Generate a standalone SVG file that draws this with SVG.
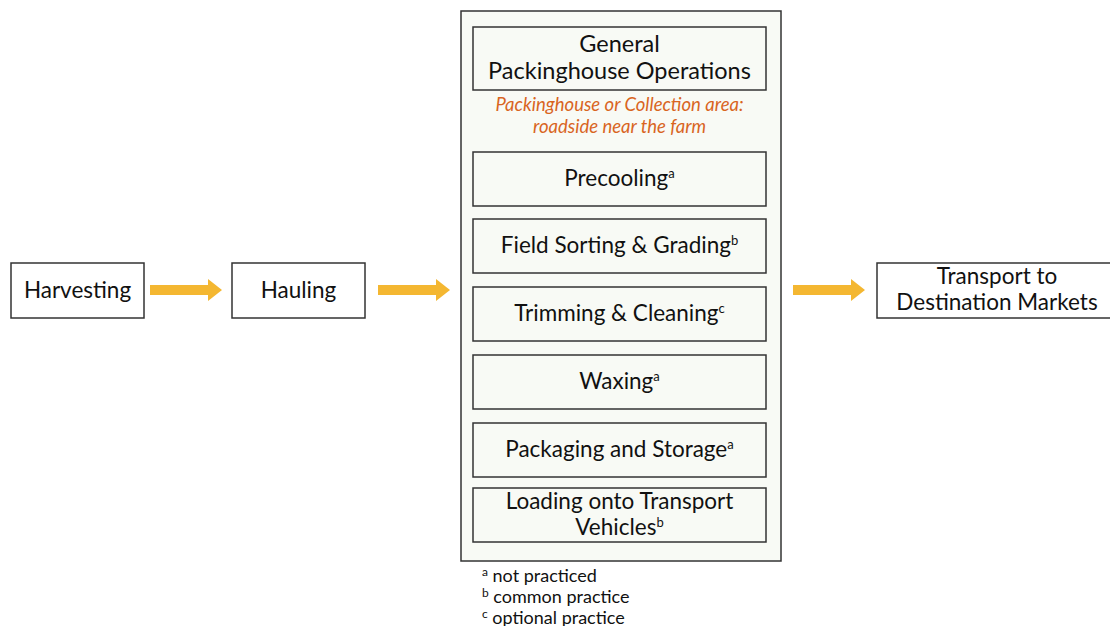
<svg xmlns="http://www.w3.org/2000/svg" width="1110" height="626" viewBox="0 0 1110 626">
<defs>
<style>
.box{fill:#ffffff;stroke:#333333;stroke-width:1.5}
.ibox{fill:#f8faf5;stroke:#333333;stroke-width:1.5}
.t{font-family:Lato,"Noto Sans",sans-serif;font-size:22.5px;fill:#111111;text-anchor:middle}
.big{font-size:23.5px}
.sup{font-size:13px}
.o{font-family:Lato,"Noto Sans",sans-serif;font-size:18.5px;font-style:italic;fill:#d9651f;text-anchor:middle}
.f{font-family:Lato,"Noto Sans",sans-serif;font-size:18px;fill:#111111}
.fs{font-size:12px}
.arr{fill:#f4b731}
</style>
</defs>
<rect width="1110" height="626" fill="#ffffff"/>
<g id="connectors">
<path class="arr" d="M150,285 H208 V279 L222,290 L208,301 V295 H150 Z"/>
<path class="arr" d="M378,285 H436 V279 L450,290 L436,301 V295 H378 Z"/>
<path class="arr" d="M793,285 H851 V279 L865,290 L851,301 V295 H793 Z"/>
</g>
<g id="harvesting">
<rect class="box" x="11" y="263" width="133" height="55"/>
<text class="t" x="77.5" y="298">Harvesting</text>
</g>
<g id="hauling">
<rect class="box" x="232" y="263" width="133" height="55"/>
<text class="t" x="298.5" y="298">Hauling</text>
</g>
<g id="packinghouse">
<rect class="ibox" x="461" y="11" width="320" height="550"/>
</g>
<g id="general">
<rect class="ibox" x="473" y="27" width="293" height="63"/>
<text class="t big" x="619.5" y="52">General</text>
<text class="t big" x="619.5" y="79">Packinghouse Operations</text>
<text class="o" x="619.5" y="111">Packinghouse or Collection area:</text>
<text class="o" x="619.5" y="133">roadside near the farm</text>
</g>
<g id="precooling">
<rect class="ibox" x="473" y="152" width="293" height="54"/>
<text class="t" x="619.5" y="186">Precooling<tspan class="sup" dy="-8">a</tspan></text>
</g>
<g id="sorting">
<rect class="ibox" x="473" y="219" width="293" height="54"/>
<text class="t" x="619.5" y="253">Field Sorting &amp; Grading<tspan class="sup" dy="-8">b</tspan></text>
</g>
<g id="trimming">
<rect class="ibox" x="473" y="287" width="293" height="54"/>
<text class="t" x="619.5" y="321">Trimming &amp; Cleaning<tspan class="sup" dy="-8">c</tspan></text>
</g>
<g id="waxing">
<rect class="ibox" x="473" y="355" width="293" height="54"/>
<text class="t" x="619.5" y="389">Waxing<tspan class="sup" dy="-8">a</tspan></text>
</g>
<g id="packaging">
<rect class="ibox" x="473" y="423" width="293" height="54"/>
<text class="t" x="619.5" y="457">Packaging and Storage<tspan class="sup" dy="-8">a</tspan></text>
</g>
<g id="loading">
<rect class="ibox" x="473" y="488" width="293" height="54"/>
<text class="t" x="619.5" y="509">Loading onto Transport</text>
<text class="t" x="619.5" y="535">Vehicles<tspan class="sup" dy="-8">b</tspan></text>
</g>
<g id="transport">
<rect class="box" x="877" y="263" width="240" height="55"/>
<text class="t" x="997" y="284">Transport to</text>
<text class="t" x="997" y="310">Destination Markets</text>
</g>
<g id="legend">
<text class="f" x="482" y="582"><tspan class="fs" dy="-6">a</tspan><tspan dy="6"> not practiced</tspan></text>
<text class="f" x="482" y="603"><tspan class="fs" dy="-6">b</tspan><tspan dy="6"> common practice</tspan></text>
<text class="f" x="482" y="624"><tspan class="fs" dy="-6">c</tspan><tspan dy="6"> optional practice</tspan></text>
</g>
</svg>
